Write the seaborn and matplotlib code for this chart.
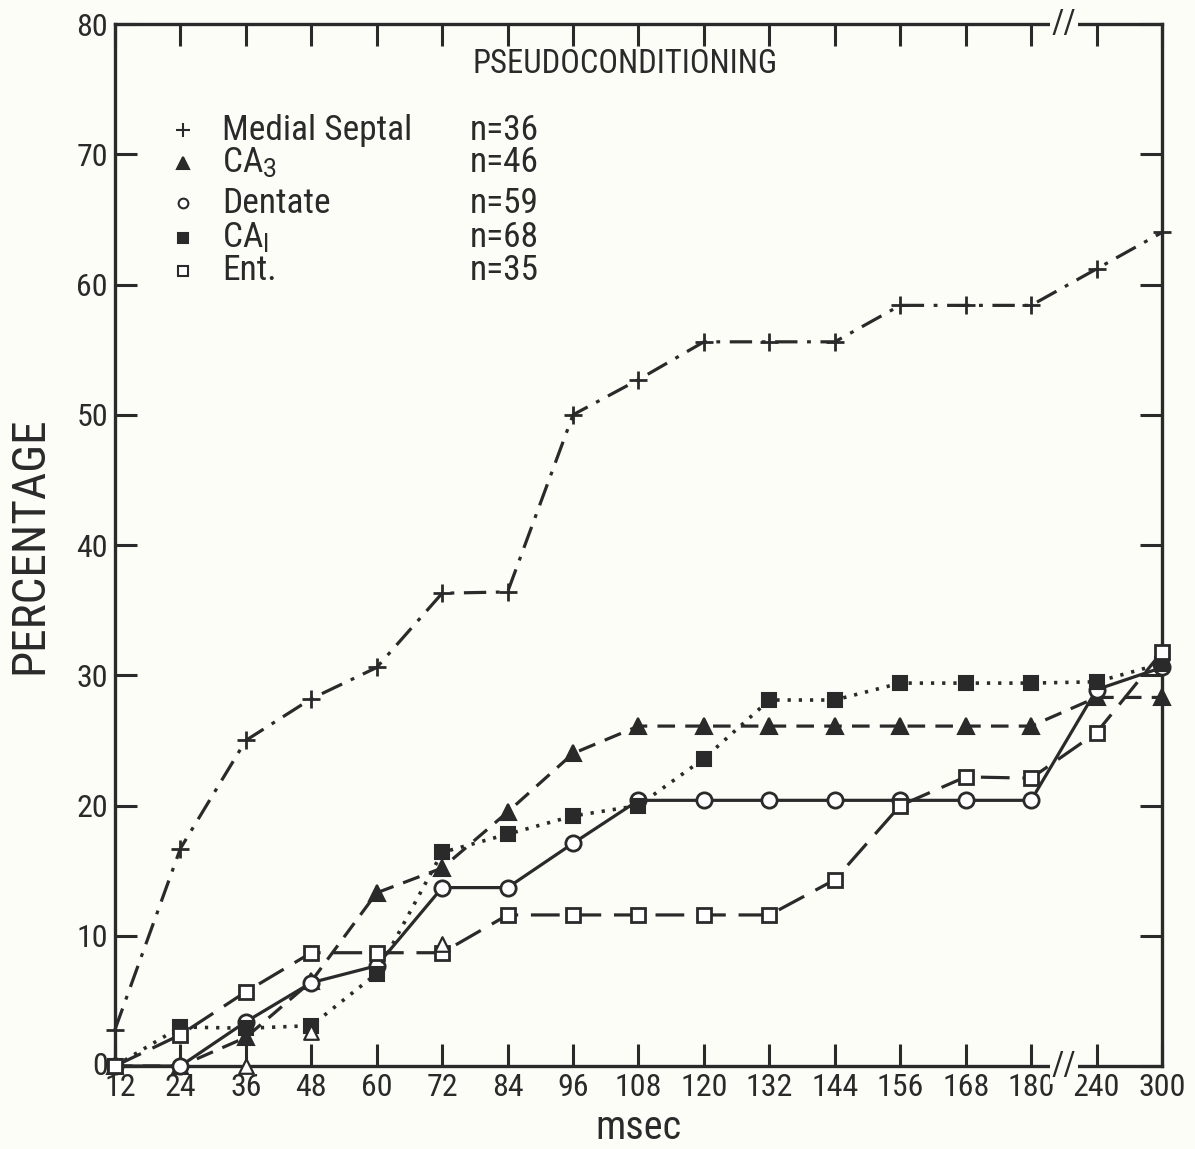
import matplotlib
matplotlib.use("Agg")
import matplotlib.pyplot as plt
import matplotlib.transforms as mtransforms
import seaborn as sns
import numpy as np
import pandas as pd

sns.set_theme(style="white")
FAM = ['Roboto Condensed', 'Liberation Sans Narrow', 'DejaVu Sans Condensed', 'Roboto', 'DejaVu Sans']
plt.rcParams['font.family'] = FAM
plt.rcParams['mathtext.fontset'] = 'custom'
plt.rcParams['mathtext.rm'] = 'Roboto'
plt.rcParams['mathtext.it'] = 'Roboto'

INK = '#2a2a2a'
BG = '#fdfdf8'

# ---------------- data ----------------
msec_labels = ["12", "24", "36", "48", "60", "72", "84", "96", "108", "120",
               "132", "144", "156", "168", "180", "240", "300"]
medial_septal = [2.8, 16.7, 25.0, 28.2, 30.6, 36.3, 36.4, 50.0, 52.7, 55.6,
                 55.6, 55.6, 58.4, 58.4, 58.4, 61.2, 64.0]
ca3 = [0.0, 0.0, 2.2, 6.5, 13.3, 15.2, 19.5, 24.0, 26.1, 26.1,
       26.1, 26.1, 26.1, 26.1, 26.1, 28.3, 28.3]
dentate = [0.0, 0.0, 3.4, 6.4, 7.7, 13.7, 13.7, 17.1, 20.4, 20.4,
           20.4, 20.4, 20.4, 20.4, 20.4, 28.9, 30.6]
ca1 = [0.0, 3.0, 2.9, 3.1, 7.1, 16.4, 17.8, 19.2, 20.0, 23.6,
       28.1, 28.1, 29.4, 29.4, 29.4, 29.5, 30.9]
ent = [0.0, 2.4, 5.7, 8.7, 8.7, 8.7, 11.6, 11.6, 11.6, 11.6,
       11.6, 14.3, 20.0, 22.2, 22.1, 25.6, 31.8]
# stray open-triangle points (unlabelled in the legend)
open_tri_msec = ["36", "48", "72"]
open_tri_vals = [0.0, 2.6, 9.4]

series_names = ["Medial Septal", "CA$_3$", "Dentate", "CA$_\\mathregular{I}$", "Ent."]
series_n = ["n=36", "n=46", "n=59", "n=68", "n=35"]

pos = np.arange(len(msec_labels))

fig = plt.figure(figsize=(11.95, 11.49), dpi=100, facecolor=BG)
ax = fig.add_axes([0.0962, 0.0722, 0.8762, 0.9069])
ax.set_facecolor(BG)

LW = 2.3
styles = [
    dict(values=medial_septal, ls=(0, (7, 3, 1.2, 3)), marker='+', mfc=INK, ms=13, mew=2.0, lw=LW),
    dict(values=ca3, ls=(0, (5.5, 3.2)), marker='^', mfc=INK, ms=11, mew=1.5, lw=LW),
    dict(values=dentate, ls='-', marker='o', mfc='white', ms=11, mew=2.0, lw=LW),
    dict(values=ca1, ls=(0, (0.9, 2.2)), marker='s', mfc=INK, ms=10, mew=1.5, lw=2.6),
    dict(values=ent, ls=(0, (9, 4)), marker='s', mfc='white', ms=10, mew=2.0, lw=LW),
]
for st in styles:
    df = pd.DataFrame({"x": pos, "y": st["values"]})
    sns.lineplot(data=df, x="x", y="y", ax=ax, sort=False, color=INK,
                 linestyle=st["ls"], linewidth=st["lw"], marker=st["marker"],
                 markersize=st["ms"], markerfacecolor=st["mfc"],
                 markeredgecolor=INK, markeredgewidth=st["mew"],
                 clip_on=False, zorder=3)

tri_pos = [msec_labels.index(m) for m in open_tri_msec]
sns.scatterplot(x=tri_pos, y=open_tri_vals, ax=ax, marker='^', s=110,
                facecolor='white', edgecolor=INK, linewidth=1.6, clip_on=False, zorder=4)

ax.set_xlim(0, len(msec_labels) - 1)
ax.set_ylim(0, 80)
ax.set_xticks(pos)
ax.set_xticklabels(msec_labels)
ax.set_yticks(np.arange(0, 81, 10))
ax.set_yticklabels([str(v) for v in range(0, 81, 10)])

for sp in ax.spines.values():
    sp.set_color(INK)
    sp.set_linewidth(2.4)
    sp.set_visible(True)

ax.tick_params(axis='both', which='both', direction='in', colors=INK,
               length=16, width=2.2, labelsize=23, labelcolor=INK,
               top=True, right=True, bottom=True, left=True,
               labeltop=False, labelright=False)
ax.tick_params(axis='x', pad=5)
ax.tick_params(axis='y', pad=5)

# nudge the corner labels apart ("0" and "12" touch in the original)
lab12 = ax.get_xticklabels()[0]
lab12.set_transform(lab12.get_transform() + mtransforms.ScaledTranslation(5 / 100, 0, fig.dpi_scale_trans))
lab0 = ax.get_yticklabels()[0]
lab0.set_transform(lab0.get_transform() + mtransforms.ScaledTranslation(0, 3 / 100, fig.dpi_scale_trans))

ax.set_xlabel("msec", fontsize=29, color=INK, labelpad=4)
ax.set_ylabel("PERCENTAGE", fontsize=34, color=INK, labelpad=18)

# axis break marks
for yy in (0.0, 1.0):
    ax.text(14.5, yy, "//", transform=ax.get_xaxis_transform(), ha='center', va='center',
            fontsize=24, color=INK,
            bbox=dict(boxstyle='square,pad=0.05', fc=BG, ec='none'), clip_on=False, zorder=6)

# title
ax.text(0.487, 0.962, "PSEUDOCONDITIONING", transform=ax.transAxes, ha='center', va='center',
        fontsize=23.5, color=INK)

# legend (manual layout)
rows_y = [0.898, 0.867, 0.828, 0.795, 0.763]
leg_markers = [('+', INK, 10), ('^', INK, 8), ('o', 'white', 7), ('s', INK, 7), ('s', 'white', 7)]
for yy, name, nn, (mk, fc, ms) in zip(rows_y, series_names, series_n, leg_markers):
    ax.plot([0.065], [yy], transform=ax.transAxes, marker=mk, ms=ms, mfc=fc, mec=INK,
            mew=1.5, ls='none', clip_on=False)
    ax.text(0.102, yy, name, transform=ax.transAxes, ha='left', va='center',
            fontsize=25.5, color=INK)
    ax.text(0.339, yy, nn, transform=ax.transAxes, ha='left', va='center',
            fontsize=25.5, color=INK)

fig.savefig("out.png", dpi=100, facecolor=BG)
